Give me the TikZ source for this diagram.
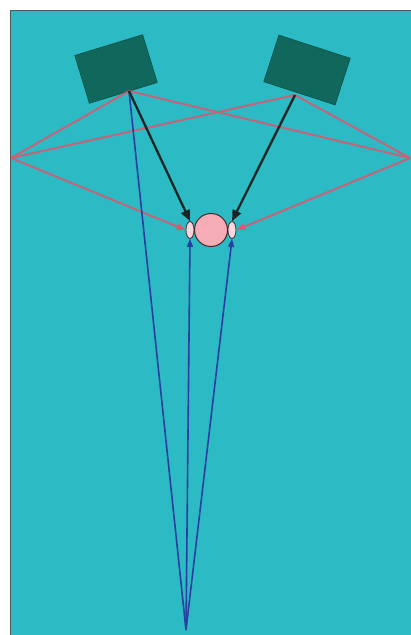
\documentclass[tikz,border=0pt]{standalone}
\usetikzlibrary{arrows.meta,shapes.geometric}
\definecolor{bgteal}{RGB}{44,186,196}
\definecolor{framegray}{RGB}{70,90,90}
\definecolor{spk}{RGB}{16,104,92}
\definecolor{spkedge}{RGB}{10,80,72}
\definecolor{refl}{RGB}{222,86,110}
\definecolor{direct}{RGB}{28,36,36}
\definecolor{floorc}{RGB}{40,62,160}
\definecolor{headc}{RGB}{246,172,182}
\definecolor{earc}{RGB}{250,215,222}
\definecolor{headedge}{RGB}{70,40,40}
\tikzset{
  spkbox/.style={draw=spkedge, line width=0.6pt, fill=spk, inner sep=0pt},
  reflray/.style={draw=refl, line width=2pt, opacity=0.85},
  reflarrow/.style={reflray, -{Triangle[length=9pt,width=7pt]}},
  directarrow/.style={draw=direct, line width=2.3pt, -{Triangle[length=11pt,width=9pt]}},
  floorray/.style={draw=floorc, line width=1.6pt},
  floorarrow/.style={floorray, -{Triangle[length=8pt,width=6pt]}},
  earshape/.style={draw=headedge, line width=0.8pt, fill=earc, ellipse, inner sep=0pt},
}
\begin{document}
\begin{tikzpicture}[x=1pt,y=-1pt]
\useasboundingbox (0,0) rectangle (410,635);
\fill[white] (0,0) rectangle (410,635);
\draw[framegray, line width=1pt, fill=bgteal] (10.5,10.5) rectangle (414,640);
% speakers
\node[spkbox, minimum width=71pt, minimum height=50pt, rotate=17] (spkL) at (116,69) {};
\node[spkbox, minimum width=75pt, minimum height=49pt, rotate=-18] (spkR) at (307,70) {};
% named points
\coordinate (lsp) at (129,91);
\coordinate (rsp) at (295,95);
\coordinate (edgeL) at (11,158);
\coordinate (edgeR) at (410,158);
\coordinate (floor) at (186,630);
% head
\node[earshape, minimum width=8pt, minimum height=17pt] (earL) at (190,230) {};
\node[earshape, minimum width=8pt, minimum height=17pt] (earR) at (232,230) {};
\node[circle, draw=headedge, line width=1pt, fill=headc, minimum size=33pt, inner sep=0pt] (head) at (211,230) {};
% reflections off side walls
\draw[reflray] (lsp) -- (edgeL);
\draw[reflray] (lsp) -- (edgeR);
\draw[reflray] (rsp) -- (edgeL);
\draw[reflray] (rsp) -- (edgeR);
\draw[reflarrow] (edgeL) -- (earL.west);
\draw[reflarrow] (edgeR) -- (earR.east);
% floor reflections
\draw[floorray] (floor) -- (lsp);
\draw[floorarrow] (floor) -- (earL.south);
\draw[floorarrow] (floor) -- (earR.south);
% direct sound
\draw[directarrow] (lsp) -- (earL.north);
\draw[directarrow] (rsp) -- (earR.north);
\end{tikzpicture}
\end{document}
